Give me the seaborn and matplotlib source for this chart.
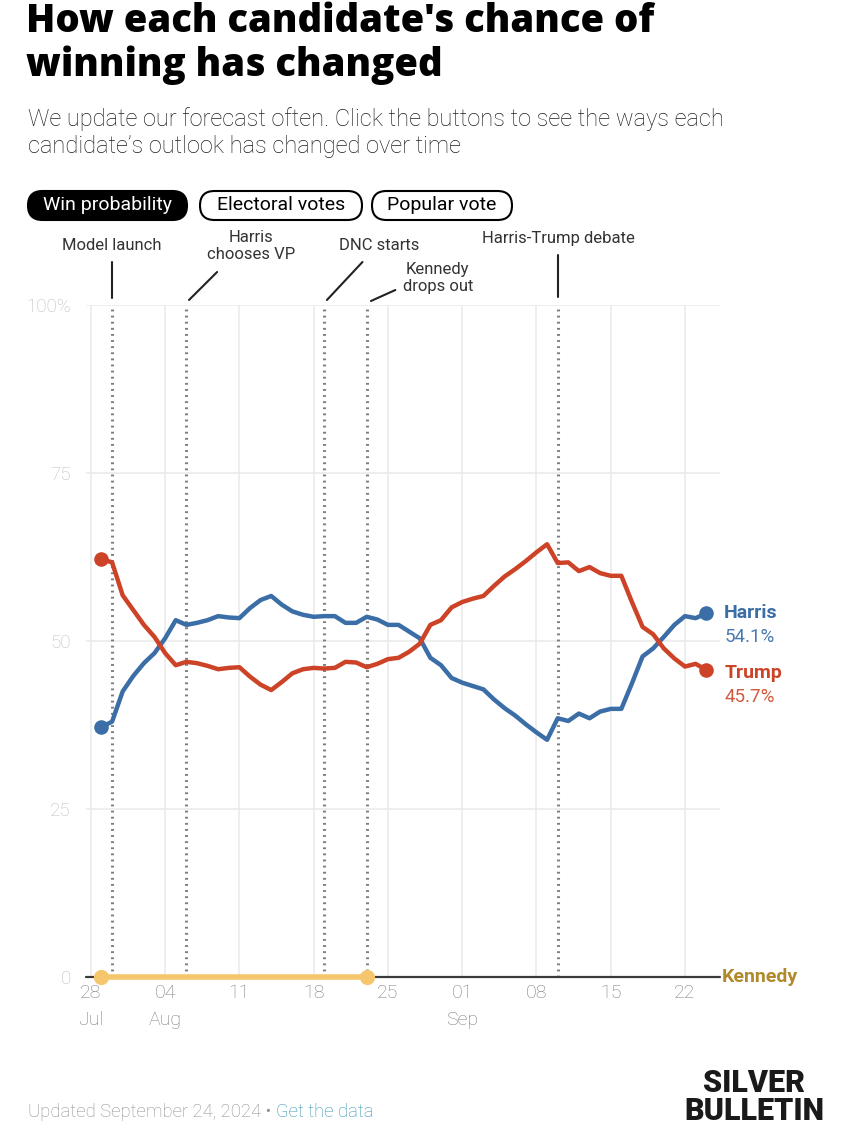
import matplotlib
matplotlib.use("Agg")
import matplotlib.pyplot as plt
import matplotlib.dates as mdates
from matplotlib import font_manager
from matplotlib.patches import FancyBboxPatch
from matplotlib.transforms import Affine2D, blended_transform_factory
import pandas as pd
import seaborn as sns

W, H = 850, 1134

# ---- data ----
start_date = "2024-07-29"
end_date = "2024-09-24"
harris = [37.2, 38.0, 42.5, 44.8, 46.7, 48.2, 50.4, 53.1, 52.4, 52.7,
          53.1, 53.7, 53.5, 53.4, 54.9, 56.1, 56.7, 55.4, 54.4, 53.9,
          53.6, 53.7, 53.7, 52.7, 52.7, 53.6, 53.2, 52.4, 52.4, 51.4,
          50.4, 47.5, 46.4, 44.5, 43.8, 43.3, 42.8, 41.3, 40.0, 38.9,
          37.6, 36.4, 35.3, 38.5, 38.1, 39.2, 38.5, 39.5, 39.9, 39.9,
          43.7, 47.7, 48.9, 50.6, 52.4, 53.7, 53.4, 54.1]
trump = [62.2, 61.7, 56.8, 54.6, 52.4, 50.6, 48.2, 46.4, 46.9, 46.7,
         46.3, 45.8, 46.0, 46.1, 44.7, 43.5, 42.7, 43.9, 45.2, 45.8,
         46.0, 45.9, 46.0, 46.9, 46.8, 46.1, 46.6, 47.3, 47.5, 48.4,
         49.6, 52.4, 53.1, 55.0, 55.8, 56.3, 56.7, 58.2, 59.6, 60.7,
         61.9, 63.2, 64.4, 61.6, 61.7, 60.4, 61.0, 60.1, 59.7, 59.7,
         55.8, 52.1, 51.0, 48.9, 47.4, 46.2, 46.6, 45.7]
kennedy_dates = ["2024-07-29", "2024-08-23"]
kennedy = [0, 0]

event_names = ["Model launch", "Harris\nchooses VP", "DNC starts",
               "Kennedy\ndrops out", "Harris-Trump debate"]
event_dates = ["2024-07-30", "2024-08-06", "2024-08-19", "2024-08-23", "2024-09-10"]

x_ticks = ["2024-07-28", "2024-08-04", "2024-08-11", "2024-08-18", "2024-08-25",
           "2024-09-01", "2024-09-08", "2024-09-15", "2024-09-22"]
x_labels = ["28\nJul", "04\nAug", "11", "18", "25", "01\nSep", "08", "15", "22"]
y_ticks = [0, 25, 50, 75, 100]
y_labels = ["0", "25", "50", "75", "100%"]

BLUE = "#3b6ea6"
RED = "#cd4327"
GOLD_LINE = "#f6c66c"
GOLD_TEXT = "#b08a2c"
GRID = "#e9e9e9"


def pick(*names):
    avail = {f.name for f in font_manager.fontManager.ttflist}
    for n in names:
        if n in avail:
            return n
    return "DejaVu Sans"


sns.set_theme(style="white")
plt.rcParams["font.family"] = ["Roboto", "DejaVu Sans"]
TITLE_FONT = pick("Open Sans", "Lato", "Roboto")

fig = plt.figure(figsize=(W / 100, H / 100), dpi=100)
fig.patch.set_facecolor("white")

# pixel (top-left origin) -> figure transform
pix = Affine2D().scale(1, -1).translate(0, H).scale(1 / W, 1 / H) + fig.transFigure

# axes: 0 at y=977px, 100 at y=305px, x from 86 to 720 px
ax = fig.add_axes([86 / W, 1 - 977 / H, (720 - 86) / W, (977 - 305) / H])
ax.set_facecolor("white")

df = pd.DataFrame({"date": pd.date_range(start_date, end_date), "Harris": harris, "Trump": trump})
long = df.melt(id_vars="date", var_name="candidate", value_name="prob")

sns.lineplot(data=long, x="date", y="prob", hue="candidate",
             palette={"Harris": BLUE, "Trump": RED}, linewidth=3.2,
             legend=False, ax=ax, zorder=5)

# endpoint dots
ends = df.iloc[[0, -1]]
for name, col in [("Harris", BLUE), ("Trump", RED)]:
    ax.scatter(ends["date"], ends[name], s=110, color=col, zorder=6, linewidths=0)

# grid
ax.set_yticks(y_ticks)
ax.set_yticklabels(y_labels)
ax.set_xticks(pd.to_datetime(x_ticks))
ax.set_xticklabels(x_labels, linespacing=1.65)
ax.set_ylim(0, 100)
x0 = pd.Timestamp("2024-07-28")
ax.set_xlim(x0 - pd.Timedelta(hours=11), x0 + pd.Timedelta(days=59.3))
ax.grid(True, color=GRID, linewidth=1.1)
for s in ax.spines.values():
    s.set_visible(False)
ax.tick_params(axis="y", length=0, pad=11, labelsize=13.5, labelcolor="#bdbdbd")
ax.tick_params(axis="x", length=0, pad=5, labelsize=14, labelcolor="#7d7d7d")
for t in ax.get_xticklabels() + ax.get_yticklabels():
    t.set_fontweight("light")

# baseline
ax.axhline(0, color="#3a3a3a", linewidth=1.6, zorder=3, clip_on=False)

# Kennedy
sns.lineplot(x=pd.to_datetime(kennedy_dates), y=kennedy, color=GOLD_LINE, linewidth=4,
             ax=ax, zorder=4, legend=False)
ax.lines[-1].set_clip_on(False)
ax.scatter(pd.to_datetime(kennedy_dates), kennedy, s=120, color=GOLD_LINE, zorder=5,
           linewidths=0, clip_on=False)
ax.set_xlabel("")
ax.set_ylabel("")
bt = blended_transform_factory(ax.transAxes, ax.transData)
ax.text(1.002, 0, "Kennedy", transform=bt, ha="left", va="center", color=GOLD_TEXT,
        fontsize=14, fontweight="bold")

# event lines and notes
tr = blended_transform_factory(ax.transData, ax.transAxes)


def ay(py):
    return (977 - py) / 672


# (text dx days, text py, line from (dx, py) to (dx, py))
notes = [(0.0, 245, (0.0, 262), (0.0, 298)),
         (6.1, 246, (2.9, 272), (0.25, 300)),
         (5.2, 245, (3.6, 262), (0.25, 300)),
         (6.7, 278, (2.7, 290), (0.4, 301)),
         (0.1, 238, (0.0, 255), (0.0, 297))]

for name, d, (tdx, tpy, p1, p2) in zip(event_names, event_dates, notes):
    dn = mdates.date2num(pd.Timestamp(d))
    ax.axvline(pd.Timestamp(d), color="#7d7d7d", linewidth=2.2,
               linestyle=(0, (0.6, 1.4)), zorder=2)
    ax.text(dn + tdx, ay(tpy), name, transform=tr, ha="center", va="center",
            fontsize=12, color="#333333", linespacing=1.15)
    ax.plot([dn + p1[0], dn + p2[0]], [ay(p1[1]), ay(p2[1])], transform=tr,
            color="#222222", linewidth=1.5, clip_on=False)

# end labels
last = mdates.date2num(pd.Timestamp(end_date))
ax.annotate("Harris", xy=(last, harris[-1]), xytext=(18, 0), textcoords="offset pixels",
            ha="left", va="center", color=BLUE, fontsize=14, fontweight="bold")
ax.annotate(f"{harris[-1]:.1f}%", xy=(last, harris[-1]), xytext=(18, -24),
            textcoords="offset pixels", ha="left", va="center", color="#4a7ab0",
            fontsize=13.5)
ax.annotate("Trump", xy=(last, trump[-1]), xytext=(18, -3), textcoords="offset pixels",
            ha="left", va="center", color=RED, fontsize=14, fontweight="bold")
ax.annotate(f"{trump[-1]:.1f}%", xy=(last, trump[-1]), xytext=(18, -27),
            textcoords="offset pixels", ha="left", va="center", color="#d05a40",
            fontsize=13.5)

# title & subtitle
for txt, y in [("How each candidate's chance of", 22), ("winning has changed", 65)]:
    fig.text(26, y, txt, transform=pix, ha="left", va="center",
             fontsize=27.5, fontweight=800, family=TITLE_FONT, color="black")
fig.text(28, 119, "We update our forecast often. Click the buttons to see the ways each",
         transform=pix, ha="left", va="center", fontsize=17, fontweight="light",
         color="#1e1e1e")
fig.text(28, 147, "candidate\u2019s outlook has changed over time",
         transform=pix, ha="left", va="center", fontsize=17, fontweight="light",
         color="#1e1e1e")

# buttons
buttons = [("Win probability", 28, 187, True), ("Electoral votes", 200, 362, False),
           ("Popular vote", 372, 512, False)]
for label, xa, xb, active in buttons:
    box = FancyBboxPatch((xa, 191), xb - xa, 29,
                         boxstyle="round,pad=0,rounding_size=14.5",
                         transform=pix, facecolor="black" if active else "white",
                         edgecolor="black", linewidth=1.5)
    fig.add_artist(box)
    fig.text((xa + xb) / 2, 205.5, label, transform=pix, ha="center", va="center",
             fontsize=14, color="white" if active else "black")

# footer
t1 = fig.text(28, 1112, "Updated September 24, 2024 \u2022 ", transform=pix, ha="left",
              va="center", fontsize=13.3, color="#8f8f8f", fontweight="light")
fig.canvas.draw()
bb = t1.get_window_extent()
fig.text(bb.x1 / W, 1 - 1112 / H, "Get the data", ha="left", va="center",
         fontsize=13.3, color="#2f93ad", fontweight="light")

fig.text(754, 1083, "SILVER", transform=pix, ha="center", va="center", fontsize=22,
         fontweight="black", color="#1a1a1a")
fig.text(754, 1111, "BULLETIN", transform=pix, ha="center", va="center", fontsize=22,
         fontweight="black", color="#1a1a1a")

fig.savefig("out.png", dpi=100, facecolor="white")
